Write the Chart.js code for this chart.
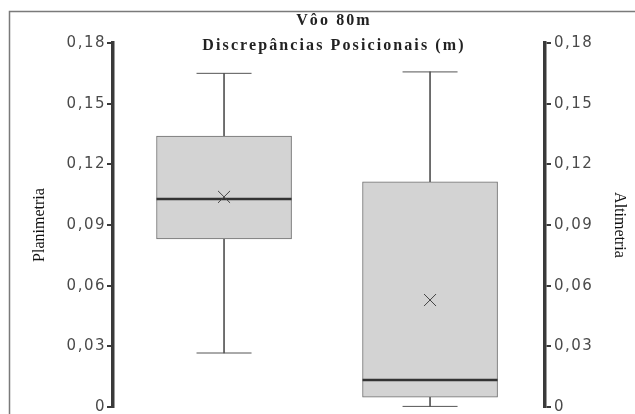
<!DOCTYPE html>
<html>
<head>
<meta charset="utf-8">
<script src="https://cdn.jsdelivr.net/npm/chart.js@4"></script>
<style>
  body { margin: 0; background: #fff; }
</style>
</head>
<body>
<canvas id="boxChart" width="635" height="414"></canvas>
<script>
// box plot values
const groups = ['Planimetria', 'Altimetria'];
const xPos = [1, 2];
const mins = [0.0267, 0.0003];
const q1s = [0.0831, 0.0049];
const medians = [0.1029, 0.0134];
const q3s = [0.134, 0.1113];
const maxs = [0.165, 0.1657];
const means = [0.1039, 0.0529];
const yTicks = [0, 0.03, 0.06, 0.09, 0.12, 0.15, 0.18];
const mainTitle = 'Vôo 80m';
const subTitle = 'Discrepâncias Posicionais (m)';

const pts = (arr) => arr.map((v, i) => ({ x: xPos[i], y: v }));
const range = (lo, hi) => lo.map((v, i) => ({ x: xPos[i], y: [v, hi[i]] }));

// frame + headings, drawn straight on the canvas
const headings = {
  id: 'headings',
  beforeDraw(chart) {
    const ctx = chart.ctx;
    ctx.letterSpacing = '0px';
    ctx.save();
    ctx.strokeStyle = '#7a7a7a';
    ctx.lineWidth = 1.5;
    ctx.beginPath();
    ctx.moveTo(9.5, 414);
    ctx.lineTo(9.5, 11.5);
    ctx.lineTo(635, 11.5);
    ctx.stroke();
    ctx.restore();
  },
  beforeDatasetsDraw(chart) {
    // tick labels are drawn after datasets (ticks.z = 1), widen them a bit
    chart.ctx.letterSpacing = '1.5px';
  },
  afterDraw(chart) {
    const { ctx, chartArea } = chart;
    ctx.save();
    ctx.letterSpacing = '2.1px';
    ctx.fillStyle = '#222';
    ctx.textAlign = 'center';
    ctx.textBaseline = 'middle';
    ctx.font = 'bold 16px "Liberation Serif"';
    const cx = (chartArea.left + chartArea.right) / 2 + 5;
    ctx.fillText(mainTitle, cx, 21);
    ctx.fillText(subTitle, cx, 46);
    ctx.restore();
    ctx.letterSpacing = '0px';
  }
};

function axisOpts(pos, title) {
  return {
    type: 'linear',
    position: pos,
    min: 0,
    max: 0.18,
    afterBuildTicks: (s) => { s.ticks = yTicks.map(v => ({ value: v })); },
    afterFit: (s) => {
      s.width = pos === 'left' ? 83 : 84;
      s.paddingTop = 0;
      s.paddingBottom = 0;
    },
    border: { display: true, color: '#3a3a3a', width: 3.5 },
    grid: { display: true, drawOnChartArea: false, drawTicks: true, tickLength: 6, color: '#3a3a3a', lineWidth: 2 },
    ticks: {
      z: 1,
      color: '#4a4a4a',
      padding: pos === 'left' ? 1 : 3,
      font: { family: 'DejaVu Sans', size: 15 },
      callback: (v) => v === 0 ? '0' : v.toFixed(2).replace('.', ',')
    },
    title: {
      display: true,
      text: title,
      color: '#111',
      font: { family: 'Liberation Serif', size: 16 },
      padding: { top: 0, bottom: 0 }
    }
  };
}

const ctx = document.getElementById('boxChart').getContext('2d');

const boxChart = new Chart(ctx, {
  type: 'bar',
  data: {
    datasets: [
      {
        label: 'box',
        data: range(q1s, q3s),
        backgroundColor: '#d3d3d3',
        borderColor: '#6e6e6e',
        borderWidth: 1,
        borderSkipped: false,
        barThickness: 135,
        grouped: false,
        order: 3
      },
      {
        label: 'upper whisker',
        data: range(q3s, maxs),
        backgroundColor: '#555',
        barThickness: 1,
        grouped: false,
        order: 4
      },
      {
        label: 'lower whisker',
        data: range(mins, q1s),
        backgroundColor: '#555',
        barThickness: 1,
        grouped: false,
        order: 4
      },
      {
        type: 'scatter',
        label: 'caps',
        data: pts(maxs).concat(pts(mins)),
        pointStyle: 'line',
        pointRadius: 27.5,
        pointBorderColor: '#555',
        pointBorderWidth: 1,
        order: 1
      },
      {
        type: 'scatter',
        label: 'median',
        data: pts(medians),
        pointStyle: 'line',
        pointRadius: 67.5,
        pointBorderColor: '#333',
        pointBorderWidth: 2.5,
        order: 1
      },
      {
        type: 'scatter',
        label: 'mean',
        data: pts(means),
        pointStyle: 'crossRot',
        pointRadius: 8.5,
        pointBorderColor: '#444',
        pointBorderWidth: 1,
        order: 0
      }
    ]
  },
  options: {
    responsive: false,
    animation: false,
    events: [],
    layout: { autoPadding: false, padding: { left: 30, right: 6, top: 43, bottom: 7 } },
    plugins: {
      legend: { display: false },
      tooltip: { enabled: false }
    },
    scales: {
      x: { type: 'linear', display: false, offset: false, min: 0.461, max: 2.558, grid: { offset: false } },
      y: axisOpts('left', groups[0]),
      y2: axisOpts('right', groups[1])
    }
  },
  plugins: [headings]
});
</script>
</body>
</html>
